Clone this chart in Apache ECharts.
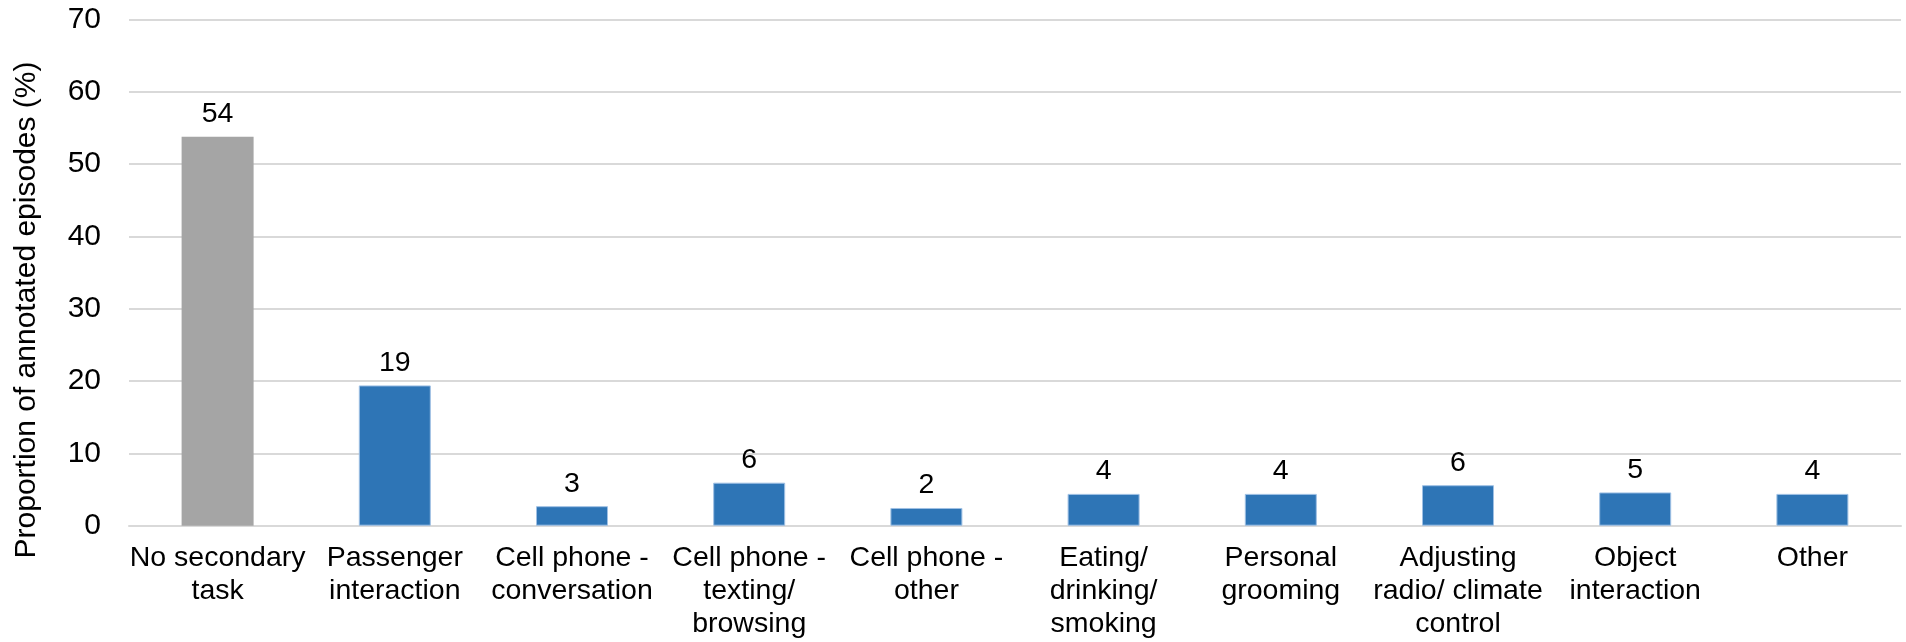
<!DOCTYPE html>
<html>
<head>
<meta charset="utf-8">
<script src="https://cdn.jsdelivr.net/npm/echarts@6/dist/echarts.min.js"></script>
<style>
  html, body { margin: 0; padding: 0; background: #fff; }
  #chart { width: 1906px; height: 642px; }
</style>
</head>
<body>
<div id="chart"></div>
<script>
// Secondary tasks observed during annotated driving episodes
const categories = [
  'No secondary\ntask',
  'Passenger\ninteraction',
  'Cell phone -\nconversation',
  'Cell phone -\ntexting/\nbrowsing',
  'Cell phone -\nother',
  'Eating/\ndrinking/\nsmoking',
  'Personal\ngrooming',
  'Adjusting\nradio/ climate\ncontrol',
  'Object\ninteraction',
  'Other'
];
const proportions = [53.8, 19.4, 2.7, 5.95, 2.45, 4.4, 4.4, 5.6, 4.6, 4.4];
const yTicks = [0, 10, 20, 30, 40, 50, 60, 70];
const yTitle = 'Proportion of annotated episodes (%)';

const FONT = '"Liberation Sans", Arial, sans-serif';
const GRAY = '#a5a5a5';
const BLUE = '#2e75b6';

// the baseline category is gray, every secondary task is blue
const barData = proportions.map(function (v, i) {
  return i === 0
    ? { value: v, itemStyle: { color: GRAY } }
    : { value: v, itemStyle: { color: BLUE, borderColor: '#9fc0e4', borderWidth: 1 } };
});

const chart = echarts.init(document.getElementById('chart'), null, { renderer: 'canvas' });

chart.setOption({
  animation: false,
  backgroundColor: '#ffffff',
  grid: { left: 129, right: 5, top: 19.5, bottom: 116.3, containLabel: false },
  graphic: [{
    type: 'text',
    x: 26.5,
    y: 310,
    rotation: Math.PI / 2,
    style: {
      text: yTitle,
      fill: '#000',
      font: '30px ' + FONT,
      align: 'center',
      verticalAlign: 'middle'
    }
  }],
  xAxis: {
    type: 'category',
    data: categories,
    axisLine: { show: true, lineStyle: { color: '#d9d9d9', width: 2 } },
    axisTick: { show: false },
    axisLabel: {
      interval: 0,
      color: '#000',
      fontFamily: FONT,
      fontSize: 28.5,
      lineHeight: 33,
      margin: 16
    }
  },
  yAxis: {
    type: 'value',
    min: yTicks[0],
    max: yTicks[yTicks.length - 1],
    interval: 10,
    axisLine: { show: false },
    axisTick: { show: false },
    axisLabel: { color: '#000', fontFamily: FONT, fontSize: 30, margin: 28 },
    splitLine: { show: true, lineStyle: { color: '#d9d9d9', width: 2 } }
  },
  series: [{
    type: 'bar',
    data: barData,
    barWidth: 72,
    label: {
      show: true,
      position: 'top',
      distance: 8,
      color: '#000',
      fontFamily: FONT,
      fontSize: 28.5,
      formatter: function (p) { return String(Math.round(p.value)); }
    }
  }]
});
</script>
</body>
</html>
